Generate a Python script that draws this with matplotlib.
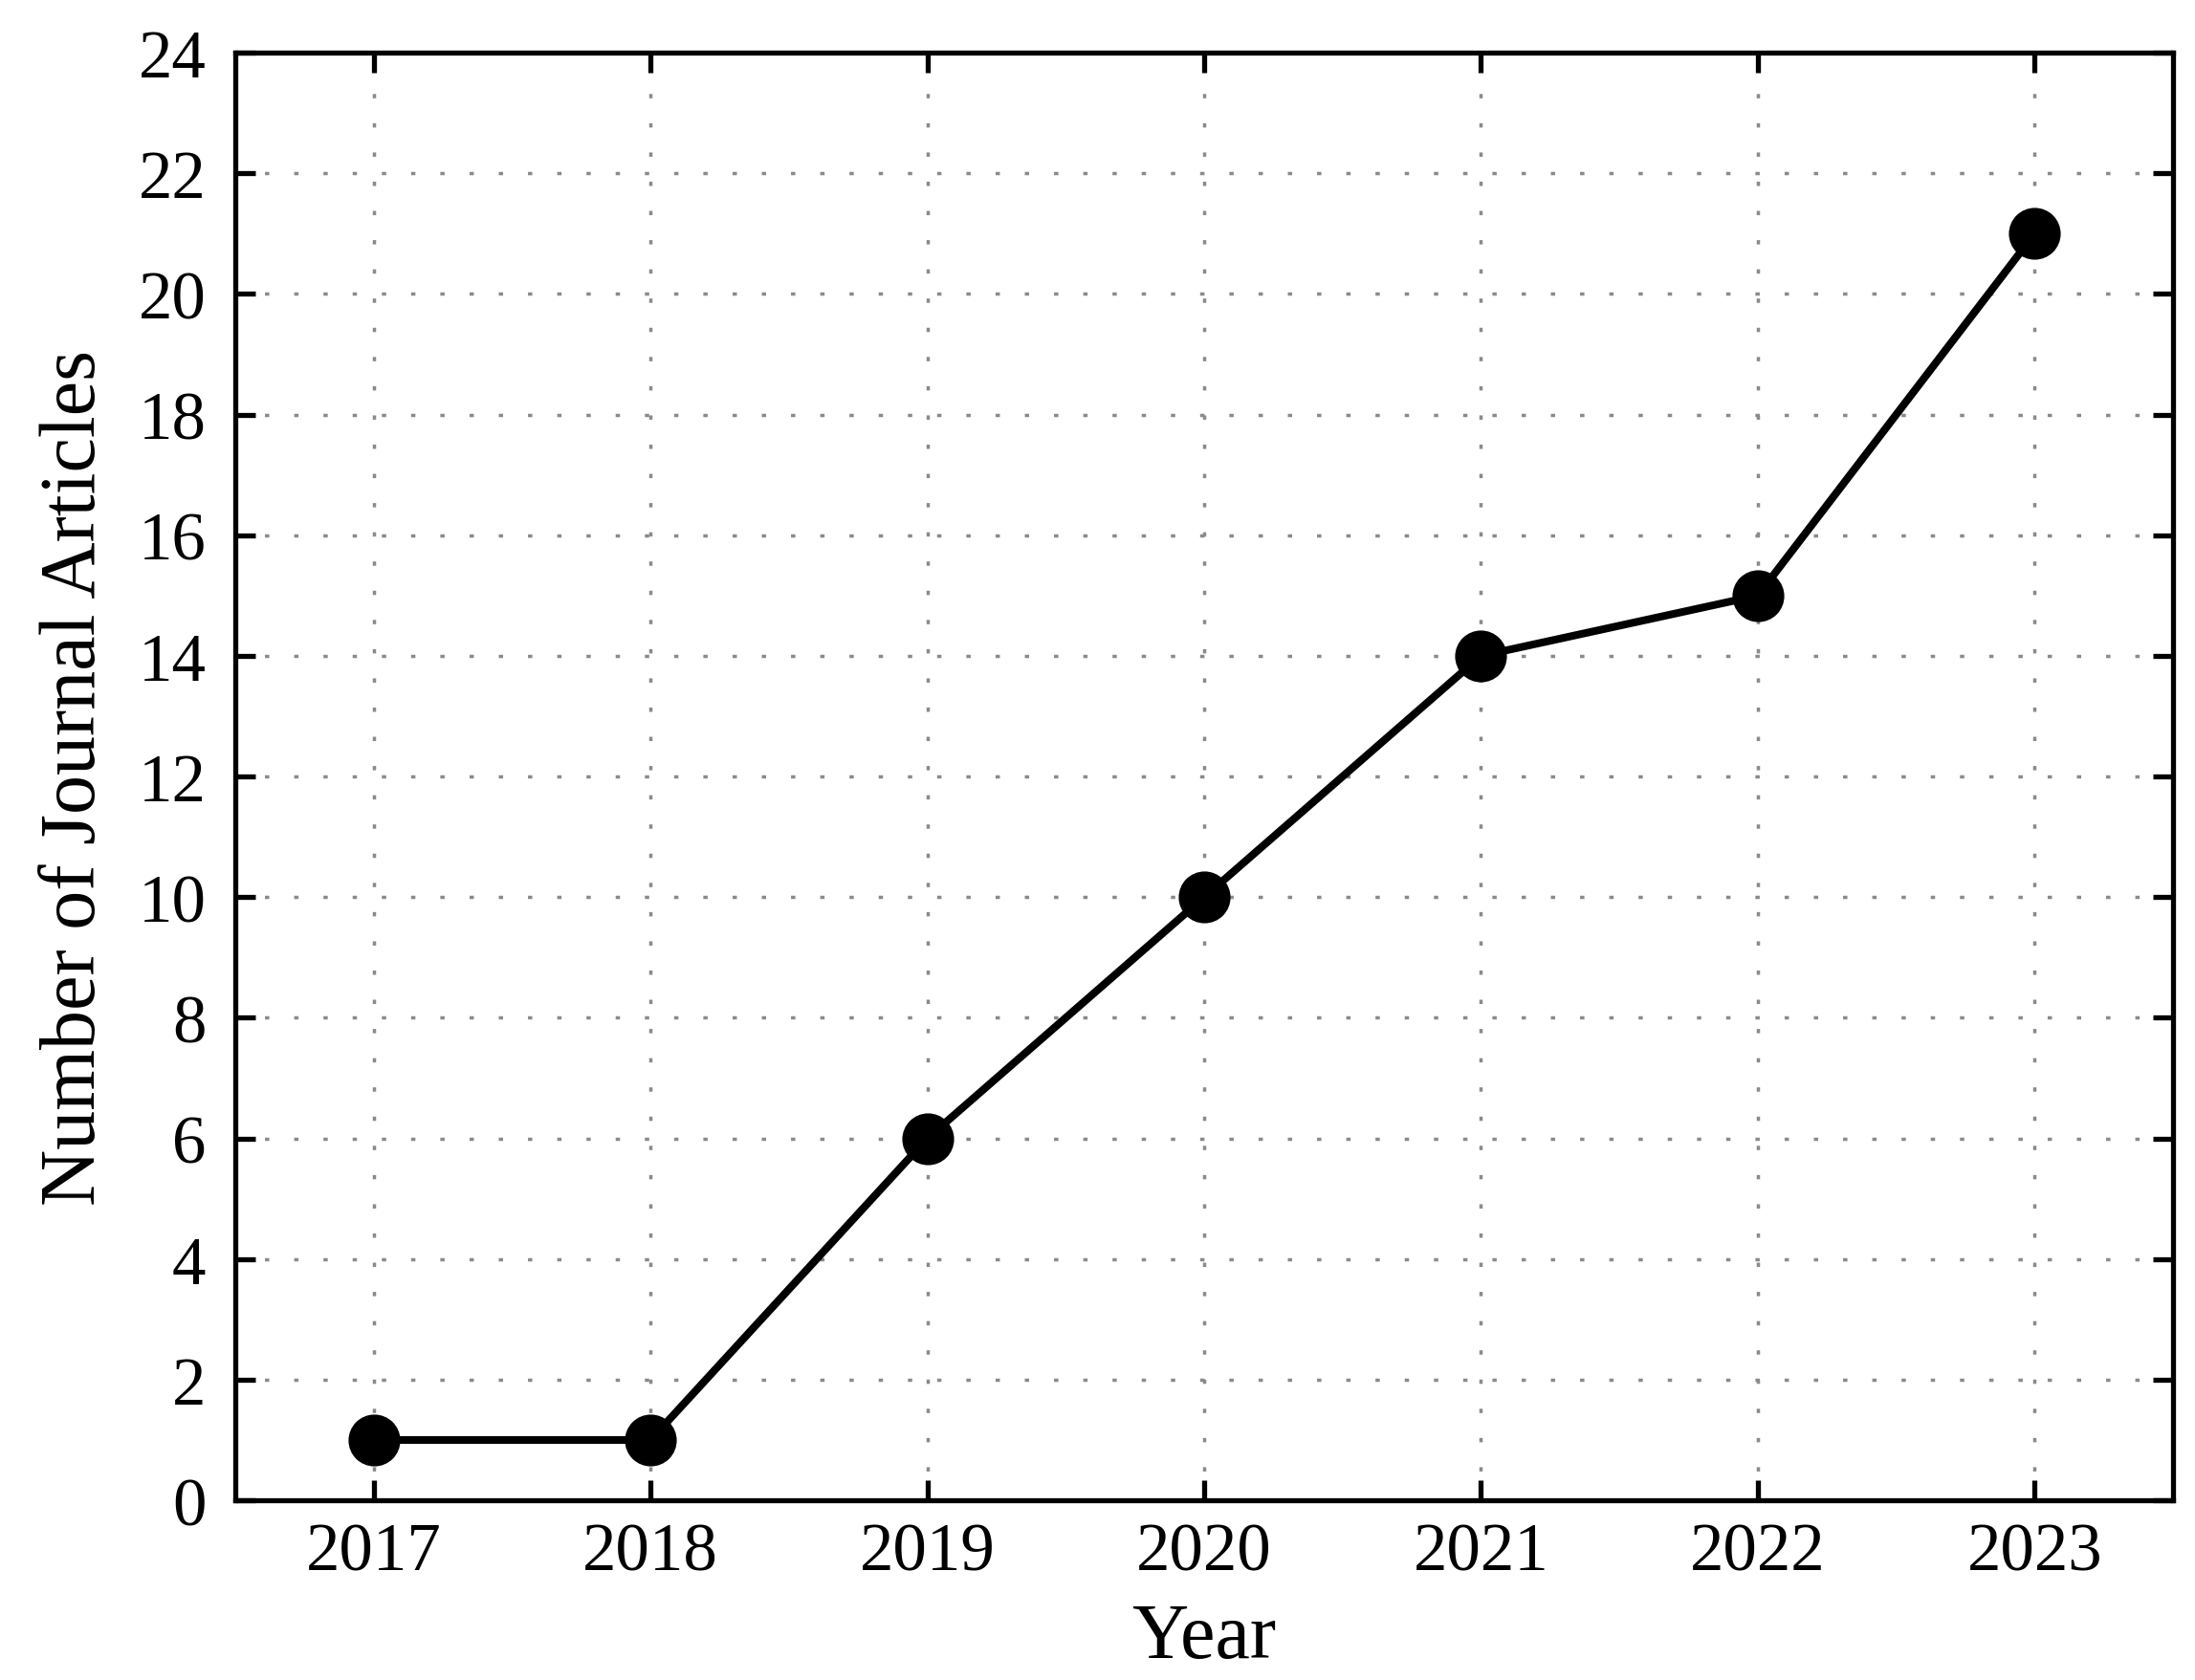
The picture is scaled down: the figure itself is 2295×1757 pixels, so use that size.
import matplotlib
matplotlib.use("Agg")
import matplotlib.pyplot as plt

years = [2017, 2018, 2019, 2020, 2021, 2022, 2023]
articles = [1, 1, 6, 10, 14, 15, 21]
yticks = list(range(0, 25, 2))

plt.rcParams['font.family'] = ['Liberation Serif', 'DejaVu Serif']

fig = plt.figure(figsize=(22.95, 17.58), dpi=100)
ax = fig.add_axes([0.1072, 0.1069, 0.990 - 0.1072, 0.9681 - 0.1069])

ax.plot(years, articles, color='black', linewidth=5.8, marker='o',
        markersize=38, markerfacecolor='black', markeredgecolor='black', zorder=3)

ax.set_xlim(2016.5, 2023.5)
ax.set_ylim(0, 24)
ax.set_xticks(years)
ax.set_xticklabels([str(y) for y in years])
ax.set_yticks(yticks)
ax.set_yticklabels([str(t) for t in yticks])

ax.grid(True, color='#8a8a8a', linestyle=(0, (1.3, 7.5)), linewidth=2.5)
ax.set_axisbelow(True)

for s in ax.spines.values():
    s.set_linewidth(3.8)

ax.tick_params(axis='both', which='major', direction='in', length=15, width=3.8,
               top=True, right=True, labelsize=51, colors='black')
ax.tick_params(axis='y', pad=22)
ax.tick_params(axis='x', pad=16)

ax.set_xlabel('Year', fontsize=59, labelpad=14)
ax.set_ylabel('Number of Journal Articles', fontsize=59, labelpad=20)

fig.savefig('out.png', dpi=100)
